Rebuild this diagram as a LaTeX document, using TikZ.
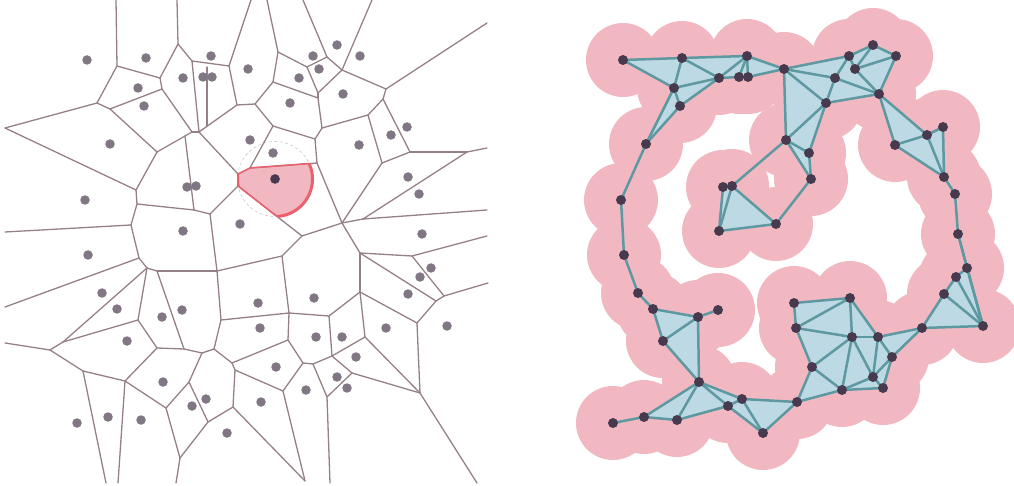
\documentclass[tikz,border=0pt]{standalone}
\usepackage{tikz}
\definecolor{vorline}{RGB}{150,128,135}
\definecolor{sitegray}{RGB}{128,118,132}
\definecolor{sitedark}{RGB}{72,58,78}
\definecolor{cellpink}{RGB}{242,184,194}
\definecolor{cellred}{RGB}{236,96,110}
\definecolor{ballpink}{RGB}{242,184,194}
\definecolor{simpblue}{RGB}{188,217,228}
\definecolor{simpteal}{RGB}{94,152,160}

% point sample, shared by both panels (right one is shifted by 536)
\newcommand{\sitelist}{1/87/60, 2/146/58, 3/211/56, 4/138/88, 5/183/78,
  6/203/77, 7/212/77, 8/144/106, 9/248/69, 10/110/144, 11/250/140,
  12/187/187, 13/196/186, 14/85/200, 15/183/231, 16/240/224, 17/337/45,
  18/313/56, 19/360/56, 20/319/69, 21/299/78, 22/343/94, 23/290/103,
  24/407/127, 25/391/135, 26/359/145, 27/273/153, 28/275/179, 29/408/177,
  30/419/194, 31/422/234, 32/88/255, 33/102/293, 34/117/309, 35/162/317,
  36/182/310, 37/127/341, 38/163/382, 39/192/406, 40/206/399, 41/77/423,
  42/108/417, 43/141/420, 44/227/433, 45/431/268, 46/420/277, 47/408/294,
  48/447/326, 49/258/303, 50/314/298, 51/260/328, 52/316/337, 53/342/337,
  54/386/328, 55/356/357, 56/276/367, 57/337/377, 58/347/388, 59/306/390,
  60/261/402}

% Voronoi vertices
\newcommand{\vorvertices}{1/117/66, 2/160/78, 3/97/103, 4/110/109,
  5/162/89, 6/178/44, 7/192/61, 8/229/66, 9/207/67, 10/237/105,
  11/255/104, 12/199/132, 13/192/132, 14/207/126, 15/185/136, 16/157/152,
  17/136/190, 18/137/204, 19/194/210, 20/210/214, 21/238/174, 22/238/186,
  23/250/168, 24/273/126, 25/278/52, 26/307/67, 27/327/57, 28/342/70,
  29/273/82, 30/318/93, 31/318/98, 32/322/128, 33/315/139, 34/317/163,
  35/386/89, 36/383/99, 37/368/115, 38/410/152, 39/382/163, 40/467/152,
  41/363/219, 42/342/223, 43/302/236, 44/131/225, 45/139/258, 46/147/268,
  47/157/271, 48/217/271, 49/221/320, 50/214/349, 51/138/320, 52/63/342,
  53/157/348, 54/184/349, 55/202/353, 56/232/363, 57/233/407, 58/189/382,
  59/208/422, 60/166/408, 61/125/381, 62/83/371, 63/50/350, 64/180/458,
  65/282/256, 66/289/313, 67/329/316, 68/288/340, 69/303/363, 70/313/364,
  71/332/356, 72/365/337, 73/360/292, 74/360/253, 75/412/256, 76/444/296,
  77/436/301, 78/417/323, 79/420/393, 80/352/373, 81/327/397, 82/283/391,
  83/235/370, 84/305/481}

% where the unbounded edges leave the panel
\newcommand{\vorborder}{1/116/0, 2/177/0, 3/251/0, 4/267/0, 5/303/0,
  6/372/0, 7/487/23, 8/487/148, 9/487/210, 10/487/236, 11/488/283,
  12/477/483, 13/330/483, 14/176/483, 15/118/483, 16/106/483, 17/5/343,
  18/5/307, 19/5/232, 20/5/128}

\begin{document}
\begin{tikzpicture}[
  x=1pt, y=-1pt,
  vor/.style     ={draw=vorline, line width=1.3pt, line cap=round},
  site/.style    ={circle, fill=sitegray, inner sep=0pt, minimum size=9.5pt},
  hsite/.style   ={circle, fill=sitedark, inner sep=0pt, minimum size=9.5pt},
  cellline/.style={draw=cellred, line width=1.5pt, line join=round},
  probe/.style   ={draw=black!22, line width=0.6pt,
                   dash pattern=on 3pt off 2.5pt},
  ball/.style    ={fill=ballpink},
  simp/.style    ={fill=simpblue},
  simpedge/.style={draw=simpteal, line width=2.5pt, line cap=round},
  rsite/.style   ={circle, fill=sitedark, inner sep=0pt, minimum size=10pt}]

\useasboundingbox (0,0) rectangle (1014,486);

\foreach \n/\x/\y in \sitelist {
  \coordinate (p\n) at (\x,\y);
  \coordinate (q\n) at (\x+536,\y);
}
\foreach \n/\x/\y in \vorvertices { \coordinate (v\n) at (\x,\y); }
\foreach \n/\x/\y in \vorborder   { \coordinate (b\n) at (\x,\y); }

% ------------------------- left: Voronoi cells -------------------------
\draw[probe] (p28) circle (37.5);

% the cell of the marked point, cut down to its ball
\begin{scope}
  \clip (p28) circle (37.5);
  \fill[cellpink] (v21) -- (v23) -- (v34) -- (v42) -- (v43) -- (v22) -- cycle;
\end{scope}

\foreach \a/\b in {b1/v1, v1/v2, v1/v3, v3/b20, b20/v17, v3/v4, v4/v5,
    v4/v16, v2/v5, v2/v6, v6/b2, v6/v7, v7/v8, v8/b3, v8/v10, v10/v11,
    v7/v12, v9/v14, v5/v13, v13/v12, v12/v10, v16/v13, v15/v19, v16/v17,
    v17/v18, v18/v19, v18/v44, v12/v21, v21/v22, v21/v23, v23/v24, v23/v34,
    v22/v43, v22/v20, v19/v20, v20/v48, v44/b19, v44/v45, v45/b18, v45/v46,
    v46/v47, v47/v48, v46/v52, v46/v51, v47/v54, v48/v65, v48/v49, v49/v66,
    v49/v50, v51/v52, v51/v53, v52/v63, v53/v54, v54/v55, v55/v50, v50/v56,
    v56/v68, v56/v83, v83/v57, v83/v82, v57/v84, v57/v59, v55/v58, v58/v59,
    v58/v60, v53/v61, v61/v62, v62/v63, v63/b17, v61/v60, v60/v64, v59/v64,
    v64/b14, v62/b16, v61/b15, b4/v25, b5/v27, b6/v28, v25/v26, v26/v27,
    v27/v28, v25/v29, v26/v30, v28/v30, v28/v35, v35/b7, v29/v31, v29/v11,
    v30/v31, v31/v32, v11/v24, v24/v33, v32/v33, v32/v37, v37/v36, v36/v35,
    v36/v38, v37/v39, v39/v38, v38/v40, v40/b8, v33/v34, v34/v42, v39/v42,
    v40/v41, v41/b9, v41/v42, v42/v43, v42/v74, v43/v65, v65/v66, v66/v67,
    v66/v68, v67/v71, v67/v73, v74/v73, v74/v75, v74/v77, v75/b10, v75/v76,
    v76/v77, v76/b11, v77/v78, v78/v79, v78/v73, v73/v72, v72/v71, v71/v70,
    v70/v69, v69/v68, v70/v81, v71/v80, v80/v81, v80/v79, v72/v79, v81/b13,
    v69/v82, v82/v84, v79/b12}
  \draw[vor] (\a) -- (\b);

\begin{scope}
  \clip (p28) circle (37.5);
  \draw[cellline] (v21) -- (v23) -- (v34) -- (v42) -- (v43) -- (v22) -- cycle;
\end{scope}
\begin{scope}
  \clip (v21) -- (v23) -- (v34) -- (v42) -- (v43) -- (v22) -- cycle;
  \draw[cellline, line width=3pt] (p28) circle (37.5);
\end{scope}

\foreach \n in {1,...,60} { \node[site] (l\n) at (p\n) {}; }
\node[hsite] (mark) at (p28) {};

% ------------------------ right: alpha complex -------------------------
\foreach \n in {1,...,60} { \fill[ball] (q\n) circle (37); }

\foreach \a/\b/\c in {1/2/4, 2/4/5, 4/5/8, 4/8/10, 2/3/5, 3/5/6, 3/6/7,
    3/7/9, 9/18/21, 17/18/20, 17/19/20, 18/20/21, 19/20/22, 20/21/22,
    21/22/23, 9/21/23, 9/11/23, 11/23/27, 11/27/28, 12/13/15, 13/15/16,
    22/25/26, 25/26/29, 24/25/29, 31/45/48, 45/46/48, 46/47/48, 47/48/54,
    34/35/37, 35/37/38, 38/42/43, 38/39/43, 38/39/40, 39/40/44, 40/44/60,
    49/50/51, 50/51/52, 50/52/53, 51/52/56, 52/56/59, 52/57/59, 52/53/57,
    53/55/57, 55/57/58, 57/58/59, 56/59/60, 53/54/55}
  \fill[simp] (q\a) -- (q\b) -- (q\c) -- cycle;

\foreach \a/\b in {1/2, 1/4, 2/3, 2/4, 2/5, 4/5, 4/8, 4/10, 8/10, 5/8,
    5/6, 3/5, 3/6, 3/7, 6/7, 3/9, 7/9, 9/11, 9/18, 9/21, 9/23, 10/14,
    14/32, 32/33, 33/34, 11/23, 11/27, 11/28, 11/13, 27/28, 23/27, 12/13,
    12/15, 13/15, 13/16, 15/16, 16/28, 17/18, 17/19, 17/20, 18/20, 18/21,
    19/20, 19/22, 20/22, 21/22, 21/23, 22/23, 22/25, 22/26, 25/26, 24/25,
    24/29, 25/29, 26/29, 29/30, 30/31, 31/45, 31/48, 45/46, 46/47, 45/48,
    46/48, 47/48, 47/54, 48/54, 34/35, 35/36, 34/37, 35/37, 37/38, 35/38,
    38/42, 38/43, 42/43, 41/42, 38/39, 38/40, 39/40, 39/43, 39/44, 40/44,
    40/60, 44/60, 49/50, 49/51, 50/51, 50/52, 50/53, 51/52, 51/56, 52/56,
    52/53, 52/57, 52/59, 53/57, 53/55, 53/54, 54/55, 55/57, 55/58, 57/58,
    57/59, 58/59, 56/59, 56/60, 59/60}
  \draw[simpedge] (q\a) -- (q\b);

\foreach \n in {1,...,60} { \node[rsite] (r\n) at (q\n) {}; }

\end{tikzpicture}
\end{document}
